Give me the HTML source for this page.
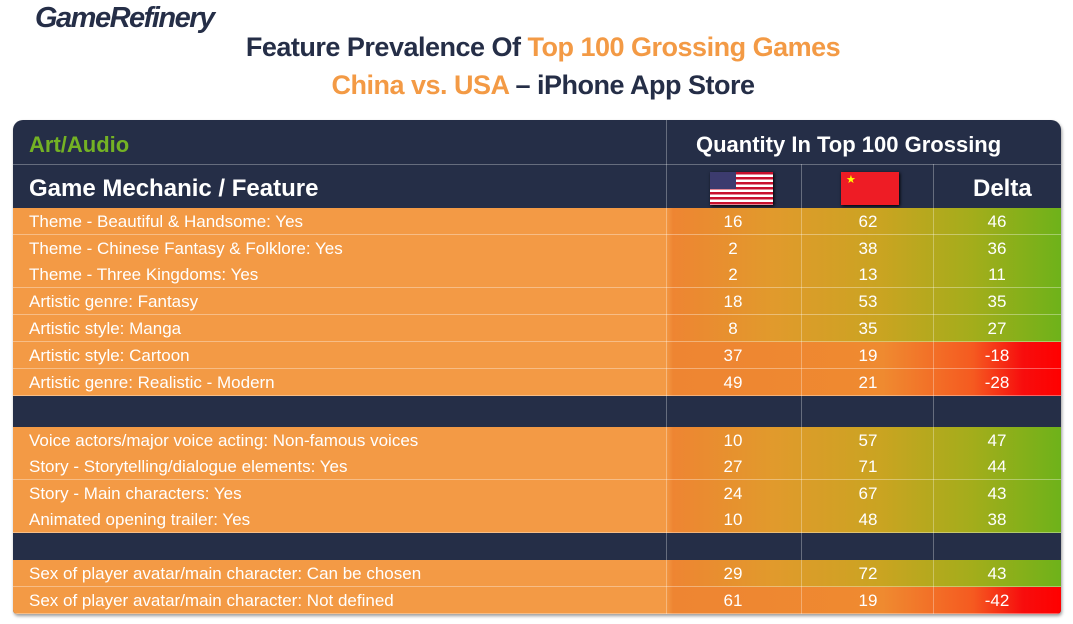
<!DOCTYPE html>
<html><head><meta charset="utf-8"><style>
*{margin:0;padding:0;box-sizing:border-box}
html,body{width:1073px;height:624px;overflow:hidden}
body{background:#fff;position:relative;font-family:"Liberation Sans",sans-serif}
.abs{position:absolute}
.logo{left:35px;top:2px;font-size:29px;font-weight:bold;font-style:italic;color:#252e47;letter-spacing:-1.5px}
.t{left:0;width:1073px;padding-left:13px;text-align:center;font-size:27px;font-weight:bold;color:#252e47;letter-spacing:-0.5px}
.o{color:#f39a45}
.tbl{left:13px;top:120px;width:1048px;height:494px;background:#252e47;border-radius:10px 10px 4px 4px;box-shadow:1px 2px 3px rgba(0,0,0,.4);overflow:hidden}
.row{position:absolute;left:0;width:1048px;height:27px;color:#fff;font-family:"Liberation Sans Narrow","Liberation Sans",sans-serif;font-size:17px;line-height:27px;border-bottom:1px solid rgba(255,255,255,.35)}
.pos{background:linear-gradient(90deg,#f39a45 0,#f39a45 653px,#ee8532 660px,#e19a2c 760px,#c9a421 870px,#a3ad1b 960px,#6eb21a 1048px)}
.neg{background:linear-gradient(90deg,#f39a45 0,#f39a45 653px,#ee8532 660px,#ef8a30 870px,#f55a20 960px,#f70d0d 1010px,#f00 1048px)}
.row span{position:absolute;top:0}
.l{left:16px}
.c1,.c2,.c3{width:60px;text-align:center}
.c1{left:690px}.c2{left:825px}.c3{left:954px}
.vl{position:absolute;top:0;width:1px;height:494px;background:rgba(255,255,255,.3);z-index:2}
.hl{position:absolute;left:0;width:1048px;height:1px;background:rgba(255,255,255,.3)}
</style></head><body>
<div class="abs logo">GameRefinery</div>
<div class="abs t" style="top:32px">Feature Prevalence Of <span class="o">Top 100 Grossing Games</span></div>
<div class="abs t" style="top:70px"><span class="o">China vs. USA</span> – iPhone App Store</div>
<div class="abs tbl">
<div class="vl" style="left:653px"></div><div class="vl" style="left:788px;top:44px;height:450px"></div><div class="vl" style="left:920px;top:44px;height:450px"></div>
<div class="hl" style="top:44px"></div>
<div class="abs" style="left:16px;top:12px;font-size:22px;font-weight:bold;color:#74b224">Art/Audio</div>
<div class="abs" style="left:683px;top:12px;font-size:22px;font-weight:bold;color:#fff">Quantity In Top 100 Grossing</div>
<div class="abs" style="left:16px;top:55px;font-size:24px;font-weight:bold;color:#fff">Game Mechanic / Feature</div>
<div class="abs" style="left:697px;top:52px;width:63px;height:33px;background:repeating-linear-gradient(180deg,#c8102e 0,#c8102e 2.5px,#fff 2.5px,#fff 5px);box-shadow:1px 1px 3px #000"><div style="width:26px;height:17px;background:#3c3b6e"></div></div>
<div class="abs" style="left:828px;top:52px;width:58px;height:33px;background:#ee1c25;box-shadow:1px 1px 3px #000;color:#ff0;font-size:11px;line-height:12px;padding:2px 0 0 5px">★</div>
<div class="abs" style="left:960px;top:55px;font-size:24px;font-weight:bold;color:#fff">Delta</div>

<div class="row pos" style="top:88px"><span class="l">Theme - Beautiful &amp; Handsome: Yes</span><span class="c1">16</span><span class="c2">62</span><span class="c3">46</span></div>
<div class="row pos" style="top:115px"><span class="l">Theme - Chinese Fantasy &amp; Folklore: Yes</span><span class="c1">2</span><span class="c2">38</span><span class="c3">36</span></div>
<div class="row pos" style="top:141px"><span class="l">Theme - Three Kingdoms: Yes</span><span class="c1">2</span><span class="c2">13</span><span class="c3">11</span></div>
<div class="row pos" style="top:168px"><span class="l">Artistic genre: Fantasy</span><span class="c1">18</span><span class="c2">53</span><span class="c3">35</span></div>
<div class="row pos" style="top:195px"><span class="l">Artistic style: Manga</span><span class="c1">8</span><span class="c2">35</span><span class="c3">27</span></div>
<div class="row neg" style="top:222px"><span class="l">Artistic style: Cartoon</span><span class="c1">37</span><span class="c2">19</span><span class="c3">-18</span></div>
<div class="row neg" style="top:249px"><span class="l">Artistic genre: Realistic - Modern</span><span class="c1">49</span><span class="c2">21</span><span class="c3">-28</span></div>

<div class="row pos" style="top:307px"><span class="l">Voice actors/major voice acting: Non-famous voices</span><span class="c1">10</span><span class="c2">57</span><span class="c3">47</span></div>
<div class="row pos" style="top:333px"><span class="l">Story - Storytelling/dialogue elements: Yes</span><span class="c1">27</span><span class="c2">71</span><span class="c3">44</span></div>
<div class="row pos" style="top:360px"><span class="l">Story - Main characters: Yes</span><span class="c1">24</span><span class="c2">67</span><span class="c3">43</span></div>
<div class="row pos" style="top:386px"><span class="l">Animated opening trailer: Yes</span><span class="c1">10</span><span class="c2">48</span><span class="c3">38</span></div>

<div class="row pos" style="top:440px"><span class="l">Sex of player avatar/main character: Can be chosen</span><span class="c1">29</span><span class="c2">72</span><span class="c3">43</span></div>
<div class="row neg" style="top:467px"><span class="l">Sex of player avatar/main character: Not defined</span><span class="c1">61</span><span class="c2">19</span><span class="c3">-42</span></div>
</div>
</body></html>
